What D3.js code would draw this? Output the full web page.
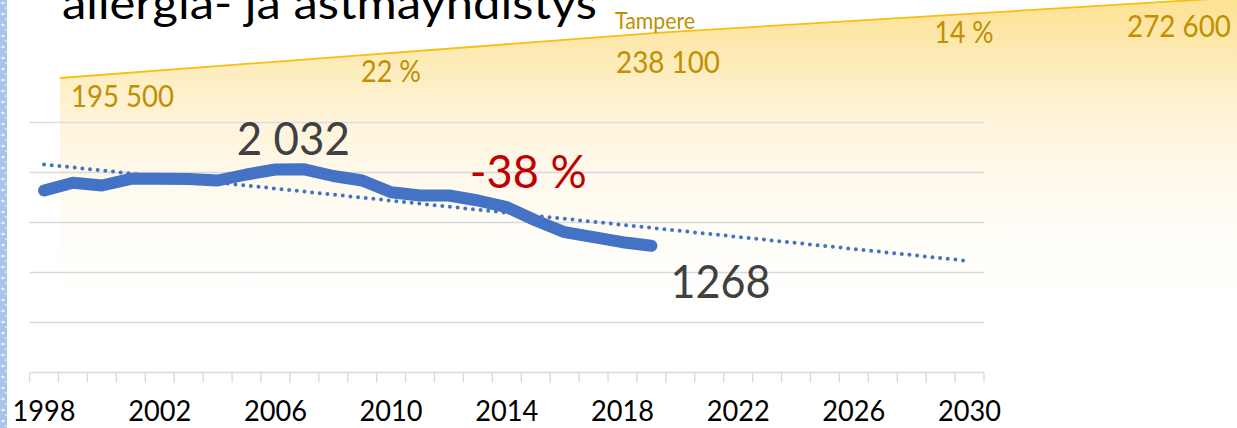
<!DOCTYPE html>
<html>
<head>
<meta charset="utf-8">
<script src="https://cdn.jsdelivr.net/npm/d3@7"></script>
<style>
  html, body { margin: 0; padding: 0; background: #fff; overflow: hidden; }
  svg { display: block; font-family: Lato, "Open Sans", sans-serif; }
</style>
</head>
<body>
<div id="chart"></div>
<script>
// Data
const title = 'allergia- ja astmayhdistys';
const cityName = 'Tampere';
const axisYears = d3.range(1998, 2031);          // x categories 1998..2030
const tickLabels = [1998, 2002, 2006, 2010, 2014, 2018, 2022, 2026, 2030];
const yTicks = [0, 500, 1000, 1500, 2000, 2500];
const memberYears = d3.range(1998, 2020);
const members = [1820, 1897, 1870, 1937, 1937, 1935, 1920, 1980, 2030, 2032, 1965,
  1920, 1803, 1770, 1770, 1720, 1653, 1520, 1403, 1353, 1303, 1268];
const popYears = ['1998', '2019', '2030'];
const population = [195500, 238100, 272600];

const width = 1237, height = 428;
const blue = '#4472c4', goldText = '#bf9000', grid = '#d9d9d9';

const fmt = d3.formatLocale({ decimal: ',', thousands: '\u00a0', grouping: [3], currency: ['', ' €'] }).format(',d');
const pct = (a, b) => Math.round((b / a - 1) * 100) + ' %';

const svg = d3.select('#chart').append('svg')
  .attr('width', width)
  .attr('height', height);
const defs = svg.append('defs');

// background photo strip on the left edge
const speck = defs.append('pattern')
  .attr('id', 'speck')
  .attr('patternUnits', 'userSpaceOnUse')
  .attr('width', 8).attr('height', 11);
speck.append('rect').attr('width', 8).attr('height', 11).attr('fill', '#a9c4ea');
speck.append('ellipse').attr('cx', 3).attr('cy', 3).attr('rx', 2).attr('ry', 1.3).attr('fill', '#e4edf9');
speck.append('ellipse').attr('cx', 6).attr('cy', 8).attr('rx', 1.5).attr('ry', 1).attr('fill', '#d6e3f5');
svg.append('rect')
  .attr('x', 0).attr('y', 0)
  .attr('width', 7).attr('height', height)
  .attr('fill', 'url(#speck)');

// scales of the members chart
const x = d3.scaleBand().domain(axisYears).range([29.6, 984]).padding(0);
const xc = yr => x(yr) + x.bandwidth() / 2;
const y = d3.scaleLinear().domain([0, 2500]).range([372.5, 122.5]);

// Tampere population (background area, its own scales)
const px = d3.scalePoint().domain(popYears).range([60, 1260]);
const py = d3.scaleLinear().domain([population[0], population[2]]).range([78, -4]);
const popData = popYears.map((yr, i) => ({ year: yr, value: population[i] }));

const grad = defs.append('linearGradient')
  .attr('id', 'gold')
  .attr('gradientUnits', 'userSpaceOnUse')
  .attr('x1', 0).attr('y1', 0).attr('x2', 0).attr('y2', 310);
[[0, '#fde294'], [0.13, '#fde8ab'], [0.26, '#feeec4'], [0.4, '#fff4da'],
 [0.55, '#fff9eb'], [0.75, '#fffdf7'], [1, '#ffffff']].forEach(s => {
  grad.append('stop').attr('offset', s[0]).attr('stop-color', s[1]);
});

svg.append('path')
  .datum(popData)
  .attr('d', d3.area().x(d => px(d.year)).y0(y(0)).y1(d => py(d.value)))
  .attr('fill', 'url(#gold)');

svg.append('path')
  .datum(popData)
  .attr('d', d3.line().x(d => px(d.year)).y(d => py(d.value)))
  .attr('fill', 'none')
  .attr('stroke', '#f5bf14')
  .attr('stroke-width', 1.8);

// gridlines
svg.append('g').selectAll('line')
  .data(yTicks.filter(t => t > 0))
  .enter().append('line')
  .attr('x1', x.range()[0]).attr('x2', x.range()[1])
  .attr('y1', d => y(d)).attr('y2', d => y(d))
  .attr('stroke', d => d === 2500 ? '#d5dcec' : grid).attr('stroke-width', 1.3);

// x axis: line + tick marks between categories
const axis = svg.append('g');
axis.append('line')
  .attr('x1', x.range()[0]).attr('x2', x.range()[1])
  .attr('y1', y(0)).attr('y2', y(0))
  .attr('stroke', grid).attr('stroke-width', 1.3);
axis.selectAll('.tick')
  .data(axisYears.map(yr => x(yr)).concat([x.range()[1]]))
  .enter().append('line')
  .attr('class', 'tick')
  .attr('x1', d => d).attr('x2', d => d)
  .attr('y1', y(0)).attr('y2', y(0) + 10)
  .attr('stroke', grid).attr('stroke-width', 1.3);
axis.selectAll('text')
  .data(tickLabels)
  .enter().append('text')
  .attr('x', d => xc(d))
  .attr('y', 421)
  .attr('text-anchor', 'middle')
  .attr('font-size', 28)
  .attr('textLength', 63)
  .attr('lengthAdjust', 'spacingAndGlyphs')
  .attr('fill', '#000')
  .text(d => d);

// linear trendline (least squares), extended to 2030
const mx = d3.mean(memberYears), my = d3.mean(members);
const slope = d3.sum(memberYears, (yr, i) => (yr - mx) * (members[i] - my)) /
  d3.sum(memberYears, yr => (yr - mx) * (yr - mx));
const trend = yr => my + slope * (yr - mx);
const ends = [axisYears[0], axisYears[axisYears.length - 1]];

svg.append('path')
  .datum(ends)
  .attr('d', d3.line().x(d => xc(d)).y(d => y(trend(d))))
  .attr('fill', 'none')
  .attr('stroke', blue)
  .attr('stroke-width', 4)
  .attr('stroke-linecap', 'round')
  .attr('stroke-dasharray', '0 7.7');

// members line
svg.append('path')
  .datum(members)
  .attr('d', d3.line().x((d, i) => xc(memberYears[i])).y(d => y(d)))
  .attr('fill', 'none')
  .attr('stroke', blue)
  .attr('stroke-width', 12)
  .attr('stroke-linecap', 'round')
  .attr('stroke-linejoin', 'round');

// annotations
const peakI = d3.maxIndex(members), lastI = members.length - 1;
const label = (txt, ax, ay, size, len, color, anchor) => svg.append('text')
  .attr('x', ax).attr('y', ay)
  .attr('font-size', size)
  .attr('fill', color)
  .attr('text-anchor', anchor || 'start')
  .attr('textLength', len)
  .attr('lengthAdjust', 'spacingAndGlyphs')
  .text(txt);

label(fmt(members[peakI]), xc(memberYears[peakI]) - 11, y(members[peakI]) - 14, 46, 113, '#404040', 'middle');
label(pct(members[peakI], members[lastI]), xc(2014) - 37, y(members[peakI]) + 19, 46, 117, '#c00000');
label(String(members[lastI]), xc(memberYears[lastI]) + 19, y(members[lastI]) + 52, 46, 100, '#404040');

label(fmt(population[0]), px(popYears[0]) + 11, py(population[0]) + 29, 30, 103, goldText);
label(pct(population[0], population[1]), (px(popYears[0]) + px(popYears[1])) / 2 + 31,
  (py(population[0]) + py(population[1])) / 2 + 27, 30, 60, goldText, 'middle');
label(cityName, px(popYears[1]) - 45, py(population[1]) - 4, 23, 80, goldText);
label(fmt(population[1]), px(popYears[1]) - 44, py(population[1]) + 40, 30, 104, goldText);
label(pct(population[1], population[2]), (px(popYears[1]) + px(popYears[2])) / 2 + 4,
  (py(population[1]) + py(population[2])) / 2 + 29, 30, 59, goldText, 'middle');
label(fmt(population[2]), px(popYears[2]) - 29, py(population[2]) + 41, 30, 104, goldText, 'end');

// slide title (cut by the top edge)
label(title, 62, 18.5, 44, 535, '#000');
</script>
</body>
</html>
